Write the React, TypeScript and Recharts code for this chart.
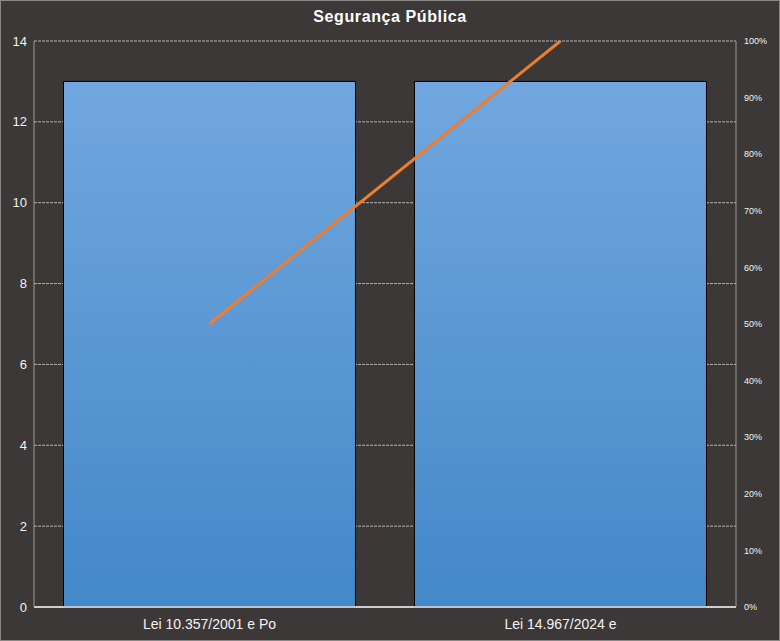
import React from "react";
import { ComposedChart, Bar, Line, XAxis, YAxis, CartesianGrid } from "recharts";

const categories = ["Lei 10.357/2001 e Po", "Lei 14.967/2024 e"];
const barValues = [13, 13];
const cumulativeShare = [0.5, 1.0];
const leftTicks = [0, 2, 4, 6, 8, 10, 12, 14];
const rightTicks = [0, 0.1, 0.2, 0.3, 0.4, 0.5, 0.6, 0.7, 0.8, 0.9, 1.0];

const data = categories.map((c, i) => ({ name: c, value: barValues[i], pct: cumulativeShare[i] }));

const FONT = "'Liberation Sans', Arial, sans-serif";

export default function App() {
  return (
    <div
      style={{
        position: "fixed",
        left: 0,
        top: 0,
        width: 780,
        height: 641,
        background: "#3b3837",
        boxShadow: "inset 0 0 0 1px #8a8886",
      }}
    >
      <div
        style={{
          position: "absolute",
          left: 0,
          top: 8,
          width: 780,
          textAlign: "center",
          color: "#ffffff",
          fontFamily: FONT,
          fontWeight: "bold",
          fontSize: 16,
          letterSpacing: 0.6,
        }}
      >
        Segurança Pública
      </div>
      <ComposedChart
        width={780}
        height={641}
        data={data}
        margin={{ top: 41, right: 0, bottom: 0, left: 0 }}
        barCategoryGap="8.4%"
      >
        <defs>
          <linearGradient id="barGrad" x1="0" y1="0" x2="0" y2="1">
            <stop offset="0%" stopColor="#71a7de" />
            <stop offset="100%" stopColor="#4388c8" />
          </linearGradient>
        </defs>
        <CartesianGrid
          vertical={false}
          stroke="#b5b3b0"
          strokeDasharray="3 1"
          yAxisId="left"
        />
        <XAxis
          dataKey="name"
          height={34}
          tickLine={false}
          tickSize={0}
          tickMargin={12}
          axisLine={{ stroke: "#f2f2f2", strokeWidth: 1.5 }}
          tick={{ fill: "#f2f2f2", fontSize: 14, fontFamily: FONT }}
        />
        <YAxis
          yAxisId="left"
          orientation="left"
          width={34}
          domain={[0, 14]}
          ticks={leftTicks}
          tickLine={false}
          tickSize={0}
          tickMargin={7}
          axisLine={{ stroke: "#9c9a98" }}
          tick={{ fill: "#f2f2f2", fontSize: 13, fontFamily: FONT }}
        />
        <YAxis
          yAxisId="right"
          orientation="right"
          width={44}
          domain={[0, 1]}
          ticks={rightTicks}
          tickLine={false}
          tickSize={0}
          tickMargin={8}
          axisLine={{ stroke: "#9c9a98" }}
          tickFormatter={(v: number) => `${Math.round(v * 100)}%`}
          tick={{ fill: "#f2f2f2", fontSize: 9, fontFamily: FONT }}
        />
        <Bar
          yAxisId="left"
          dataKey="value"
          fill="url(#barGrad)"
          stroke="#000000"
          strokeWidth={1}
          isAnimationActive={false}
        />
        <Line
          yAxisId="right"
          dataKey="pct"
          stroke="#ed7d31"
          strokeWidth={3}
          dot={false}
          activeDot={false}
          isAnimationActive={false}
        />
      </ComposedChart>
    </div>
  );
}
